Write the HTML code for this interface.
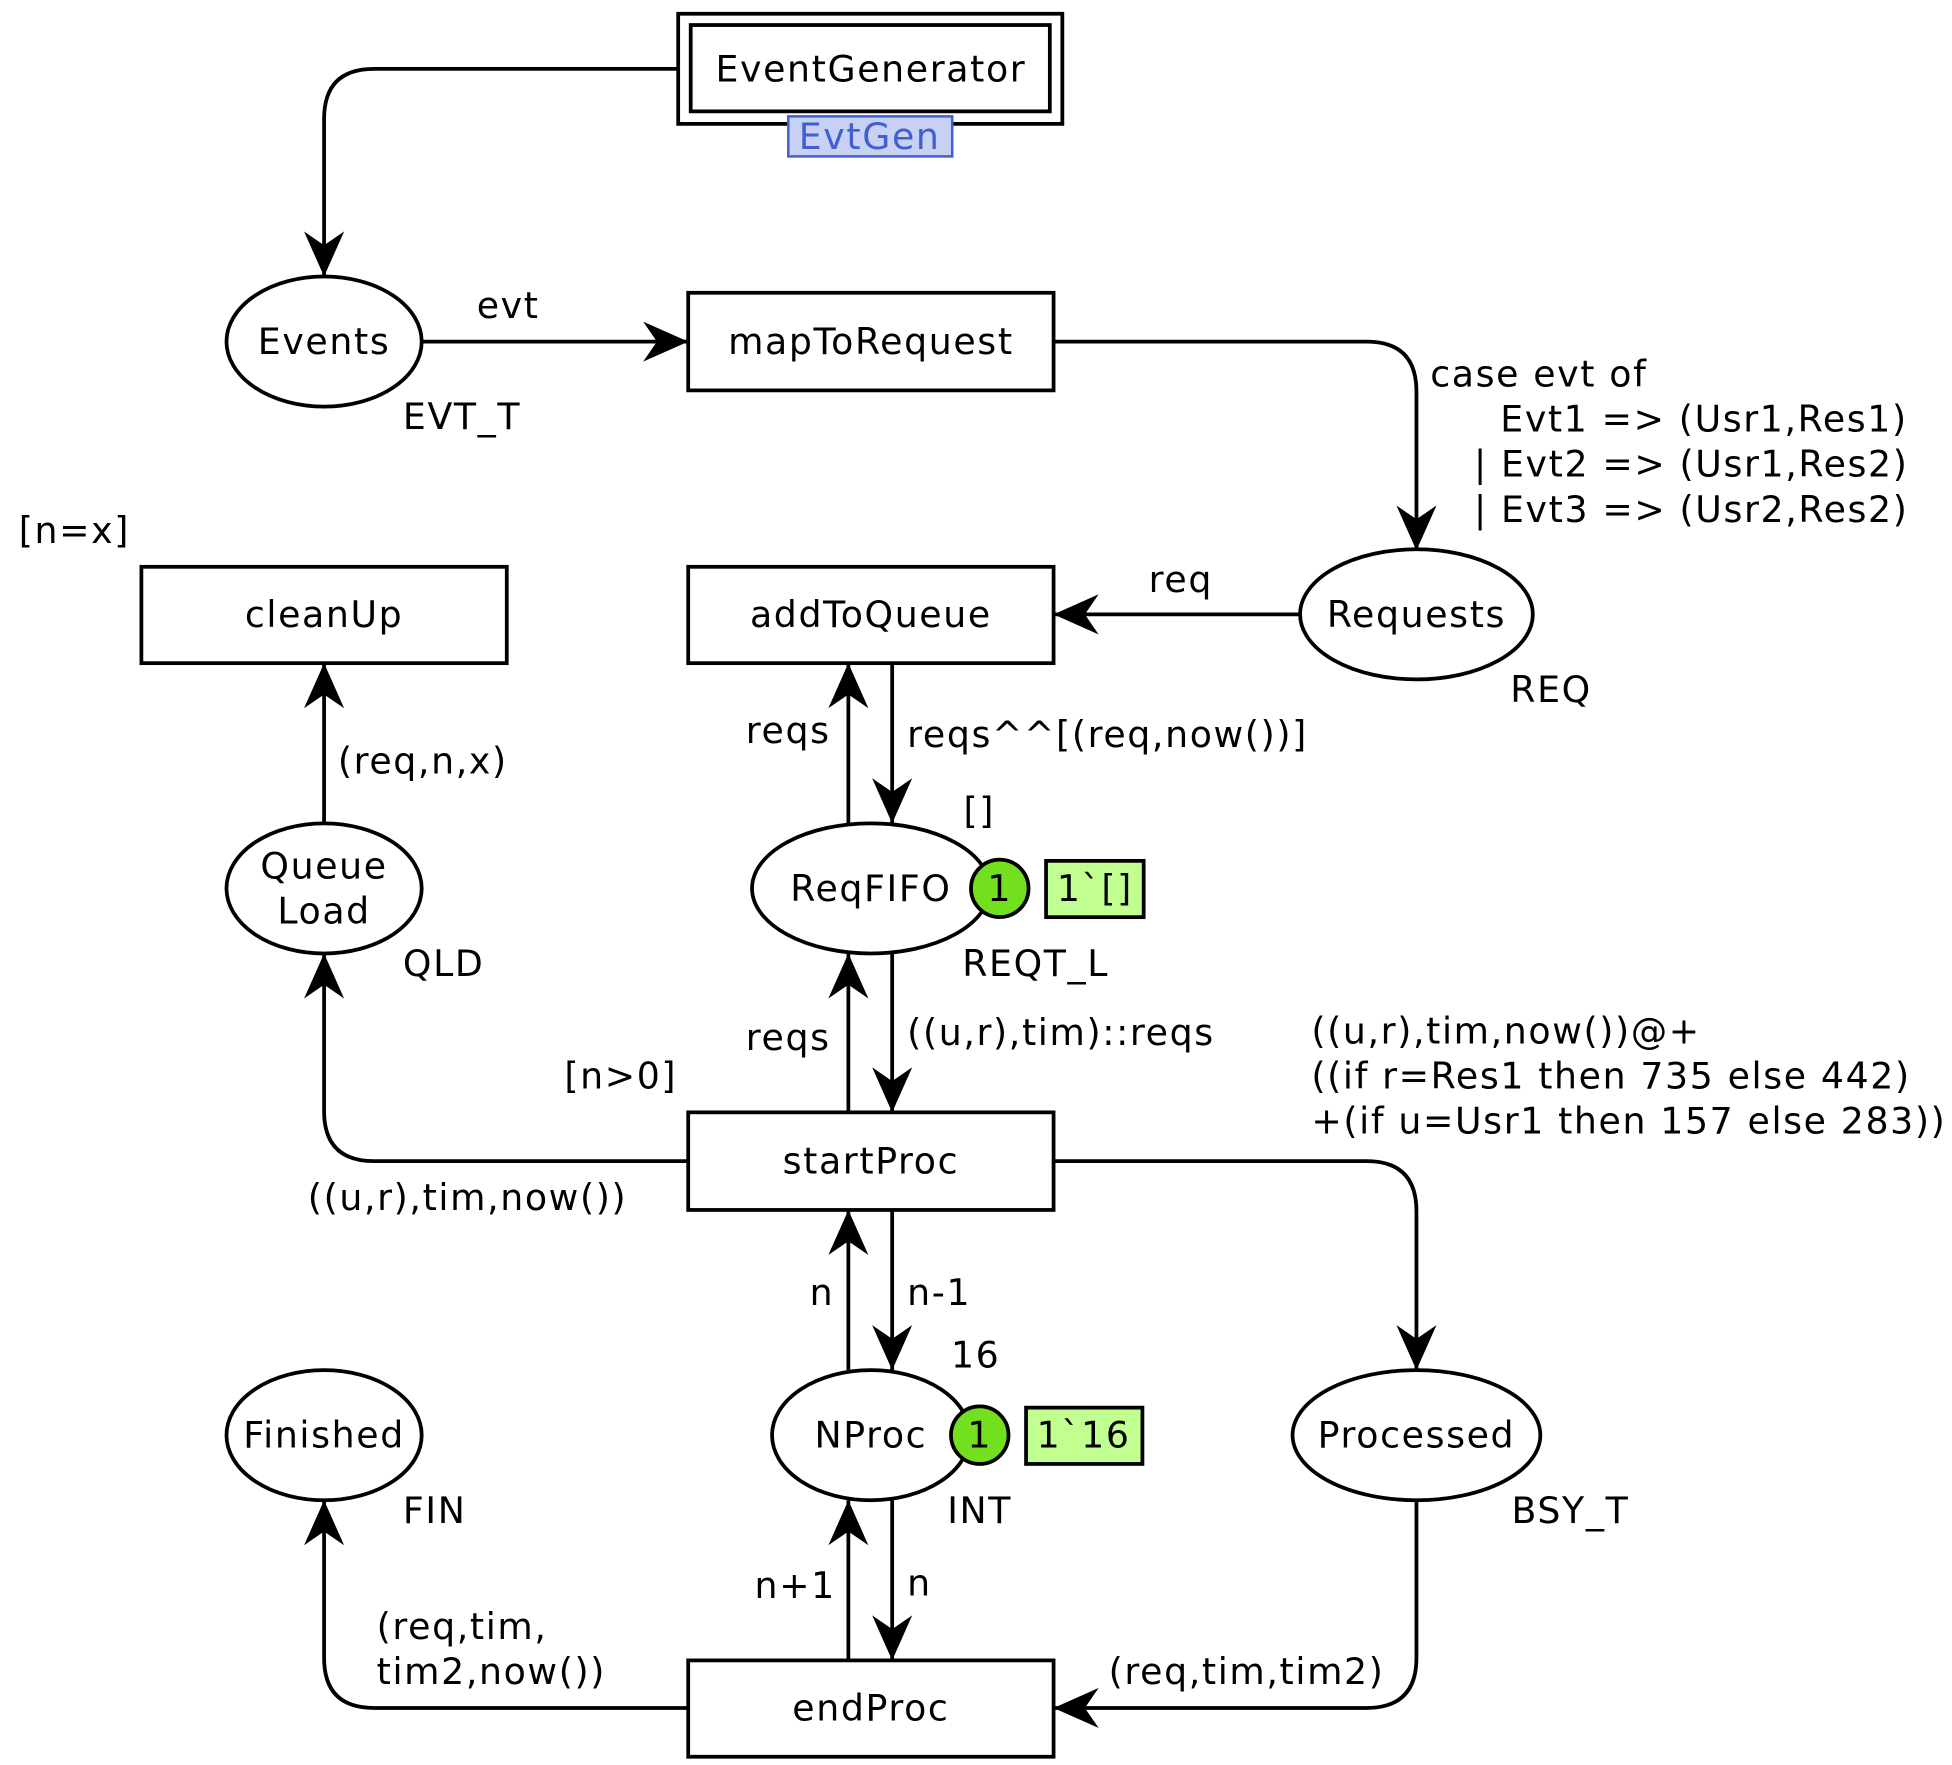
<!DOCTYPE html>
<html><head><meta charset="utf-8"><style>
html,body{margin:0;padding:0;background:#fff}
svg{display:block}
text{font-family:"DejaVu Sans",sans-serif;font-size:29px;fill:#000;letter-spacing:1.3px}
</style></head><body>
<svg width="1952" height="1765" viewBox="0 0 1560 1410.6" preserveAspectRatio="none" xmlns="http://www.w3.org/2000/svg">
<defs>
<marker id="a" markerUnits="userSpaceOnUse" markerWidth="40" markerHeight="40" refX="36" refY="16" orient="auto">
<path d="M0,0 L36,16 L0,32 L11,16 Z" fill="#000"/>
</marker>
</defs>
<g fill="none" stroke="#000" stroke-width="3">
<rect x="542" y="11" width="307" height="88"/>
<rect x="552" y="20" width="287" height="69"/>
<rect x="550" y="234" width="292" height="78"/>
<rect x="113" y="453" width="292" height="77"/>
<rect x="550" y="453" width="292" height="77"/>
<rect x="550" y="889" width="292" height="78"/>
<rect x="550" y="1327" width="292" height="77"/>
<ellipse cx="259" cy="273" rx="78" ry="52"/>
<ellipse cx="1132" cy="491" rx="93" ry="52"/>
<ellipse cx="259" cy="710" rx="78" ry="52"/>
<ellipse cx="696" cy="710" rx="95" ry="52"/>
<ellipse cx="259" cy="1147" rx="78" ry="52"/>
<ellipse cx="696" cy="1147" rx="79" ry="52"/>
<ellipse cx="1132" cy="1147" rx="99" ry="52"/>
<path d="M542,55 H299 Q259,55 259,95 V221" marker-end="url(#a)"/>
<path d="M337,273 H550" marker-end="url(#a)"/>
<path d="M842,273 H1092 Q1132,273 1132,313 V440" marker-end="url(#a)"/>
<path d="M1039,491 H842" marker-end="url(#a)"/>
<path d="M259,658 V530" marker-end="url(#a)"/>
<path d="M678,658 V530" marker-end="url(#a)"/>
<path d="M713,530 V658" marker-end="url(#a)"/>
<path d="M678,889 V762" marker-end="url(#a)"/>
<path d="M713,762 V889" marker-end="url(#a)"/>
<path d="M550,928 H299 Q259,928 259,888 V762" marker-end="url(#a)"/>
<path d="M842,928 H1092 Q1132,928 1132,968 V1095" marker-end="url(#a)"/>
<path d="M678,1095 V967" marker-end="url(#a)"/>
<path d="M713,967 V1095" marker-end="url(#a)"/>
<path d="M678,1327 V1199" marker-end="url(#a)"/>
<path d="M713,1199 V1327" marker-end="url(#a)"/>
<path d="M550,1365 H299 Q259,1365 259,1325 V1199" marker-end="url(#a)"/>
<path d="M1132,1199 V1325 Q1132,1365 1092,1365 H842" marker-end="url(#a)"/>
</g>
<rect x="630" y="93" width="131" height="32" fill="#c8d0f4" stroke="#4060d0" stroke-width="2"/>
<text x="695" y="119" text-anchor="middle" style="fill:#4060d0">EvtGen</text>
<circle cx="799" cy="710" r="23" fill="#72e01e" stroke="#000" stroke-width="3"/>
<text x="799" y="720" text-anchor="middle">1</text>
<rect x="836" y="688" width="78" height="45" fill="#c0ff90" stroke="#000" stroke-width="3"/>
<text x="875" y="720" text-anchor="middle">1`[]</text>
<circle cx="783" cy="1147" r="23" fill="#72e01e" stroke="#000" stroke-width="3"/>
<text x="783" y="1157" text-anchor="middle">1</text>
<rect x="820" y="1125" width="93" height="45" fill="#c0ff90" stroke="#000" stroke-width="3"/>
<text x="866" y="1157" text-anchor="middle">1`16</text>
<g text-anchor="middle">
<text x="696" y="65">EventGenerator</text>
<text x="259" y="283">Events</text>
<text x="696" y="283">mapToRequest</text>
<text x="1132" y="501">Requests</text>
<text x="259" y="501">cleanUp</text>
<text x="696" y="501">addToQueue</text>
<text x="259" y="702">Queue</text>
<text x="259" y="738">Load</text>
<text x="696" y="720">ReqFIFO</text>
<text x="696" y="938">startProc</text>
<text x="259" y="1157">Finished</text>
<text x="696" y="1157">NProc</text>
<text x="1132" y="1157">Processed</text>
<text x="696" y="1375">endProc</text>
</g>
<text x="322" y="343">EVT_T</text>
<text x="381" y="254">evt</text>
<text x="1143" y="309">case evt of</text>
<text x="1199" y="345">Evt1 =&gt; (Usr1,Res1)</text>
<text x="1178" y="381">| Evt2 =&gt; (Usr1,Res2)</text>
<text x="1178" y="417">| Evt3 =&gt; (Usr2,Res2)</text>
<text x="1207" y="561">REQ</text>
<text x="918" y="473">req</text>
<text x="15" y="434">[n=x]</text>
<text x="270" y="618">(req,n,x)</text>
<text x="322" y="780">QLD</text>
<text x="596" y="594">reqs</text>
<text x="725" y="597">reqs^^[(req,now())]</text>
<text x="770" y="658">[]</text>
<text x="769" y="780">REQT_L</text>
<text x="596" y="839">reqs</text>
<text x="725" y="835">((u,r),tim)::reqs</text>
<text x="451" y="870">[n&gt;0]</text>
<text x="246" y="967">((u,r),tim,now())</text>
<text x="1048" y="834">((u,r),tim,now())@+</text>
<text x="1048" y="870">((if r=Res1 then 735 else 442)</text>
<text x="1048" y="906">+(if u=Usr1 then 157 else 283))</text>
<text x="647" y="1043">n</text>
<text x="725" y="1043">n-1</text>
<text x="760" y="1093">16</text>
<text x="757" y="1217">INT</text>
<text x="322" y="1217">FIN</text>
<text x="1208" y="1217">BSY_T</text>
<text x="603" y="1277">n+1</text>
<text x="725" y="1275">n</text>
<text x="301" y="1310">(req,tim,</text>
<text x="301" y="1346">tim2,now())</text>
<text x="886" y="1346">(req,tim,tim2)</text>
</svg>
</body></html>
